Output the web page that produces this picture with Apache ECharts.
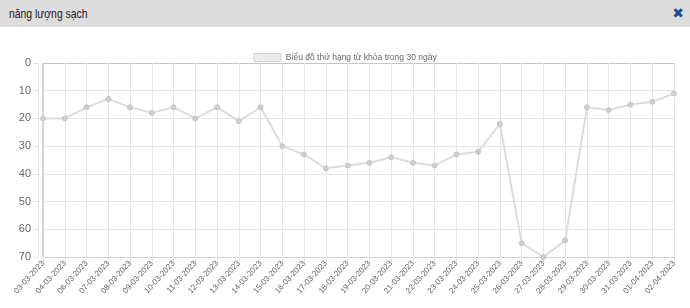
<!DOCTYPE html>
<html>
<head>
<meta charset="utf-8">
<script src="https://cdn.jsdelivr.net/npm/echarts@6/dist/echarts.min.js"></script>
<style>
html,body{margin:0;padding:0;background:#fff;}
#wrap{position:relative;width:690px;height:308px;overflow:hidden;}
#chart{position:absolute;left:0;top:0;width:690px;height:308px;}
#hdr{position:absolute;left:0;top:0;width:690px;height:27px;background:#dddddd;z-index:2;
 font-family:"Liberation Sans",Arial,sans-serif;font-size:13px;color:#222;}
#hdr .t{position:absolute;left:9px;top:6px;display:inline-block;transform:scaleX(0.8);transform-origin:0 0;}
#hdr .x{position:absolute;right:6px;top:5px;color:#1f4f8f;font-size:14px;font-weight:bold;font-family:"DejaVu Sans",sans-serif;}
</style>
</head>
<body>
<div id="wrap">
<div id="chart"></div>
<div id="hdr"><span class="t">năng lượng sạch</span><span class="x">✖</span></div>
</div>
<script>
const categories = ["03-03-2023","04-03-2023","06-03-2023","07-03-2023","08-03-2023","09-03-2023","10-03-2023","11-03-2023","12-03-2023","13-03-2023","14-03-2023","15-03-2023","16-03-2023","17-03-2023","18-03-2023","19-03-2023","20-03-2023","21-03-2023","22-03-2023","23-03-2023","24-03-2023","25-03-2023","26-03-2023","27-03-2023","28-03-2023","29-03-2023","30-03-2023","31-03-2023","01-04-2023","02-04-2023"];
const rankValues = [20,20,16,13,16,18,16,20,16,21,16,30,33,38,37,36,34,36,37,33,32,22,65,70,64,16,17,15,14,11];
const seriesName = "Biểu đồ thứ hạng từ khóa trong 30 ngày";

const chart = echarts.init(document.getElementById('chart'), null, {renderer:'canvas'});
const font = '"Liberation Sans", Arial, sans-serif';
chart.setOption({
  animation:false,
  textStyle:{fontFamily:font},
  legend:{
    top:48, left:'center',
    itemWidth:27, itemHeight:8, itemGap:5,
    textStyle:{color:'#666', fontSize:8.5, fontFamily:font},
    data:[{name:seriesName, icon:'rect', itemStyle:{color:'#ebebeb', borderColor:'#d6d6d6', borderWidth:1}}]
  },
  grid:{left:43, right:16, top:63, bottom:51},
  xAxis:{
    type:'category', data:categories, boundaryGap:false,
    axisLine:{onZero:false, lineStyle:{color:'#d0d0d0'}},
    axisTick:{show:true, alignWithLabel:true, length:5, lineStyle:{color:'#e2e2e2'}},
    axisLabel:{rotate:48, fontSize:8, color:'#666', margin:5, interval:0, fontFamily:font},
    splitLine:{show:true, lineStyle:{color:'#e6e6e6'}}
  },
  yAxis:{
    type:'value', inverse:true, min:0, max:70, interval:10, offset:5,
    axisLine:{show:true, lineStyle:{color:'#e2e2e2'}},
    axisTick:{show:true, length:5, lineStyle:{color:'#e2e2e2'}},
    axisLabel:{fontSize:11, color:'#666', margin:7, fontFamily:font},
    splitLine:{show:true, lineStyle:{color:['#c4c4c4','#e6e6e6','#e6e6e6','#e6e6e6','#e6e6e6','#e6e6e6','#e6e6e6','#d0d0d0']}}
  },
  series:[{
    name:seriesName, type:'line', data:rankValues,
    symbol:'circle', symbolSize:5, showSymbol:true,
    lineStyle:{color:'#dcdcdc', width:2},
    itemStyle:{color:'#cfcfcf', borderColor:'#c4c4c4', borderWidth:1},
    markLine:{silent:true, symbol:'none', label:{show:false},
      lineStyle:{color:'#d4d4d4', width:2, type:'solid'},
      data:[{xAxis:categories[0]}]}
  }]
});
</script>
</body>
</html>
